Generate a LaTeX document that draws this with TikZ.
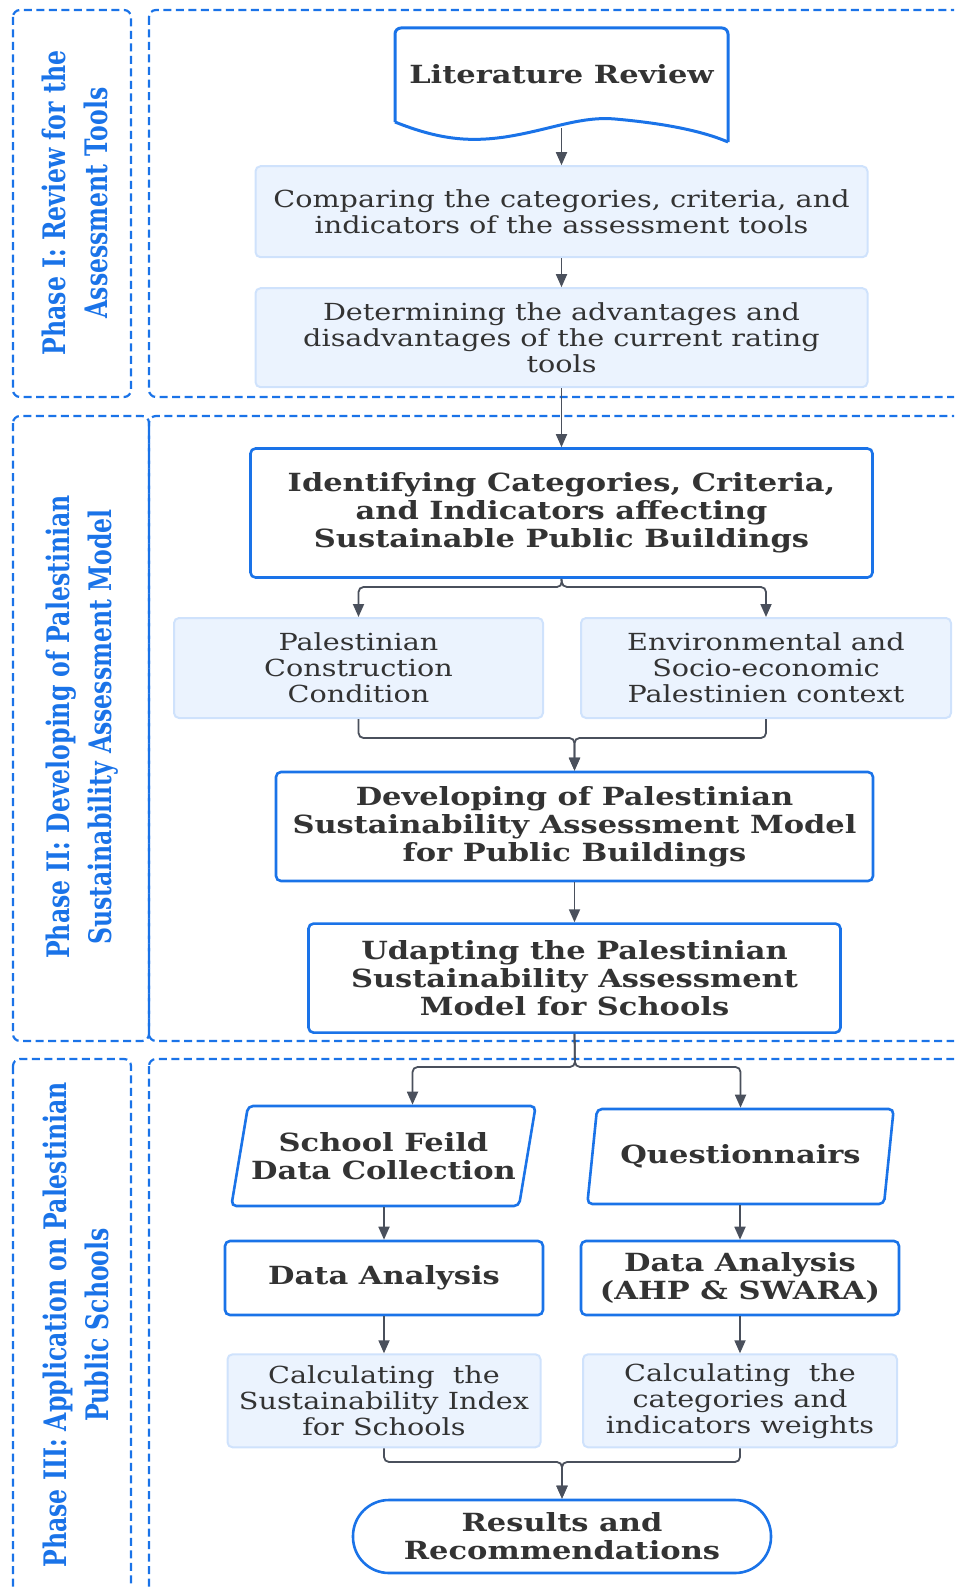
\documentclass[tikz,border=0pt]{standalone}
\usepackage{fontspec}
\setmainfont{DejaVu Serif}[FakeStretch=1.22]
\newfontfamily\phasefont{DejaVu Serif}[FakeStretch=0.76]
\usetikzlibrary{positioning,shapes.geometric,arrows.meta}

\definecolor{phaseblue}{RGB}{26,115,232}
\definecolor{softfill}{RGB}{235,243,254}
\definecolor{softline}{RGB}{207,226,252}
\definecolor{inkgray}{RGB}{51,51,51}
\definecolor{arrowgray}{RGB}{74,80,92}

\begin{document}
\begin{tikzpicture}[
    x = 1pt, y = -1pt,
    phaseframe/.style = {draw = phaseblue, line width = 2.2pt, dash pattern = on 8pt off 4.5pt, rounded corners = 7pt},
    phaselabel/.style = {rotate = 90, text = phaseblue, align = center, font = \phasefont\bfseries\fontsize{31}{42}\selectfont},
    mainbox/.style = {draw = phaseblue, line width = 2.6pt, rounded corners = 5pt, fill = white, inner sep = 0pt,
                      align = center, text = inkgray, font = \bfseries\fontsize{25}{28}\selectfont},
    softbox/.style = {draw = softline, line width = 2pt, rounded corners = 5pt, fill = softfill, inner sep = 0pt,
                      align = center, text = inkgray, font = \fontsize{23.5}{26}\selectfont},
    databox/.style = {mainbox, trapezium, trapezium left angle = 71, trapezium right angle = 109, trapezium stretches = true},
    endbox/.style = {mainbox, rounded corners = 36pt},
    flow/.style = {draw = arrowgray, line width = 1.8pt, rounded corners = 5pt, -{Triangle[length = 13pt, width = 11pt]}}
]

\useasboundingbox (0,0) rectangle (954,1587);
\clip (0,0) rectangle (954,1587);

% Phase frames
\draw[phaseframe] (13,10) rectangle (131,397);
\draw[phaseframe] (149,10) rectangle (975,397);
\draw[phaseframe] (13,416) rectangle (149,1041);
\draw[phaseframe] (149,416) rectangle (975,1041);
\draw[phaseframe] (13,1059) rectangle (131,1600);
\draw[phaseframe] (149,1059) rectangle (975,1600);

\node[phaselabel] (ph1) at (75,203) {Phase I: Review for the\\Assessment Tools};
\node[phaselabel] (ph2) at (82,727) {Phase II: Developing of Palestinian\\Sustainability Assessment Model};
\node[phaselabel] (ph3) at (76,1325) {Phase III: Application on Palestinian\\Public Schools};

% Phase I
\node[inner sep = 0pt, minimum width = 333pt, minimum height = 100pt, text = inkgray,
      font = \bfseries\fontsize{25}{28}\selectfont] (lit) at (561.5,78) {\raisebox{8pt}{Literature Review}};
\draw[draw = phaseblue, line width = 3pt, rounded corners = 6pt]
    (395,122) -- (395,28) -- (728,28) -- (728,142);
\draw[draw = phaseblue, line width = 3pt]
    (395,122) .. controls (440,140) and (470,142) .. (505,137)
    .. controls (550,130) and (580,116) .. (615,119)
    .. controls (660,123) and (700,130) .. (728,142);

\node[softbox, minimum width = 612pt, minimum height = 91pt] (cmp) [below = 37pt of lit]
    {Comparing the categories, criteria, and\\indicators of the assessment tools};
\node[softbox, minimum width = 612pt, minimum height = 99pt] (det) [below = 29pt of cmp]
    {Determining the advantages and\\disadvantages of the current rating\\tools};

% Phase II
\node[mainbox, minimum width = 622pt, minimum height = 129pt] (idf) [below = 59pt of det]
    {Identifying Categories, Criteria,\\and Indicators affecting\\Sustainable Public Buildings};
\node[softbox, minimum width = 369pt, minimum height = 100pt] (pcc) at (358.5,668)
    {Palestinian\\Construction\\Condition};
\node[softbox, minimum width = 370pt, minimum height = 100pt] (env) at (766,668)
    {Environmental and\\Socio-economic\\Palestinien context};
\node[mainbox, minimum width = 597pt, minimum height = 109pt] (dev) at (574.5,826.5)
    {Developing of Palestinian\\Sustainability Assessment Model\\for Public Buildings};
\node[mainbox, minimum width = 532pt, minimum height = 109pt] (udp) [below = 40pt of dev]
    {Udapting the Palestinian\\Sustainability Assessment\\Model for Schools};

% Phase III
\node[databox, minimum width = 305pt, minimum height = 100pt] (sfd) at (383.5,1156)
    {School Feild\\Data Collection};
\node[databox, minimum width = 307pt, minimum height = 95pt] (qst) at (740.5,1156.5)
    {Questionnairs};
\node[mainbox, minimum width = 318pt, minimum height = 74pt] (da1) at (384,1278) {Data Analysis};
\node[mainbox, minimum width = 318pt, minimum height = 74pt] (da2) at (740,1278) {Data Analysis\\(AHP \& SWARA)};
\node[softbox, minimum width = 313pt, minimum height = 93pt] (cs1) [below = 37pt of da1]
    {Calculating\ \ the\\Sustainability Index\\for Schools};
\node[softbox, minimum width = 314pt, minimum height = 93pt] (cs2) [below = 37pt of da2]
    {Calculating\ \ the\\categories and\\indicators weights};
\node[endbox, minimum width = 418pt, minimum height = 73pt] (res) at (562,1536.5)
    {Results and\\Recommendations};

% Split and join points
\coordinate (split1) at (562,587);
\coordinate (join1) at (574.5,738);
\coordinate (split2) at (575,1067);
\coordinate (join2) at (562,1462);

% Connections
\draw[flow] (lit.south) -- (cmp.north);
\draw[flow] (cmp.south) -- (det.north);
\draw[flow] (det.south) -- (idf.north);

\draw[flow] (idf.south) -- (split1) -| (pcc.north);
\draw[flow] (idf.south) -- (split1) -| (env.north);
\draw[flow] (pcc.south) |- (join1) -- (dev.north);
\draw[flow] (env.south) |- (join1) -- (dev.north);
\draw[flow] (dev.south) -- (udp.north);

\draw[flow] (udp.south) -- (split2) -| ([xshift = 29pt]sfd.north);
\draw[flow] (udp.south) -- (split2) -| (qst.north);
\draw[flow] (da1.north |- sfd.south) -- (da1.north);
\draw[flow] (da2.north |- qst.south) -- (da2.north);
\draw[flow] (da1.south) -- (cs1.north);
\draw[flow] (da2.south) -- (cs2.north);
\draw[flow] (cs1.south) |- (join2) -- (res.north);
\draw[flow] (cs2.south) |- (join2) -- (res.north);

\end{tikzpicture}
\end{document}
